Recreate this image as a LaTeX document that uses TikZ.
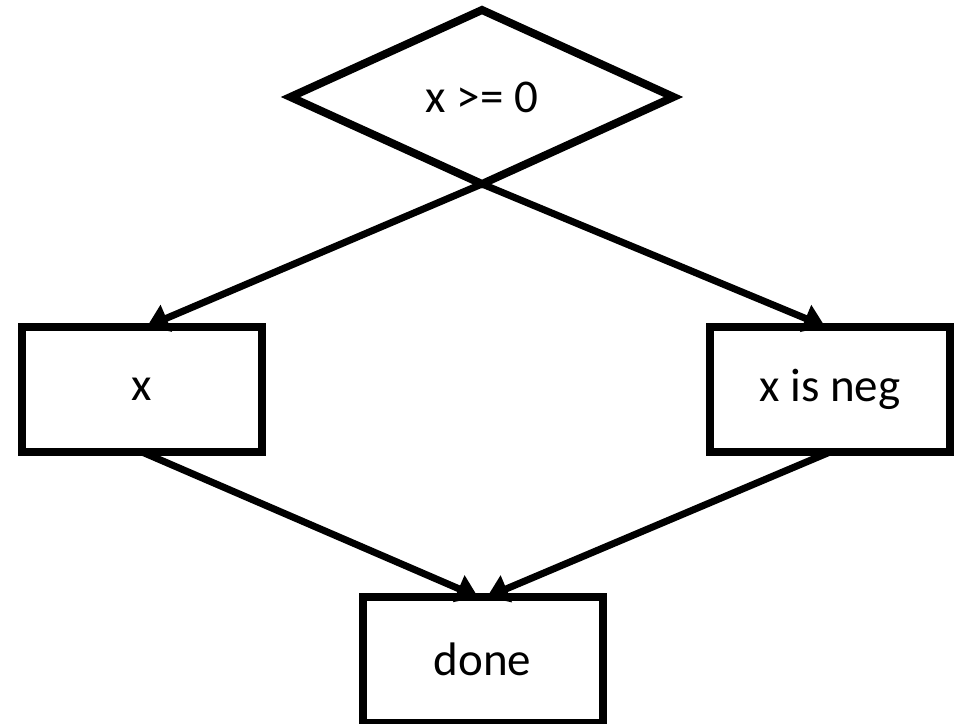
\documentclass[tikz,border=0pt]{standalone}
\usepackage{fontspec}
\setmainfont{Carlito}
\usetikzlibrary{shapes.geometric,arrows.meta,calc}
\begin{document}
\begin{tikzpicture}[x=1pt,y=-1pt,
  every node/.style={font=\fontsize{47pt}{52pt}\selectfont, outer sep=0pt},
  stepbox/.style={draw=black, line width=8pt, rectangle, minimum width=240pt, minimum height=125.5pt, inner sep=0pt},
  decision/.style={draw=black, line width=8pt, diamond, minimum width=383pt, minimum height=174pt, inner sep=0pt},
  arr/.style={line width=7pt, -{Triangle[length=21pt,width=28pt]}}]
\useasboundingbox (0,0) rectangle (957,723);
\node[decision] (cond) at (482,97) {x >= 0};
\node[stepbox] (nx) at (142,389.25) {x};
\node[stepbox] (nneg) at (830,389.25) {x is neg};
\node[stepbox] (done) at (482.5,659.75) {done};
\draw[arr] (cond.south) -- ([xshift=5pt]nx.north);
\draw[arr] (cond.south) -- ([xshift=-5pt]nneg.north);
\draw[arr] (nx.south) -- ([xshift=-4.5pt]done.north);
\draw[arr] (nneg.south) -- ([xshift=4.5pt]done.north);
\end{tikzpicture}
\end{document}
